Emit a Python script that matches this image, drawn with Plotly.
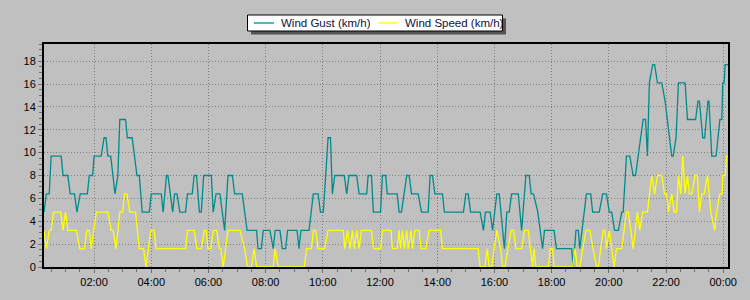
import plotly.graph_objects as go
from datetime import datetime, timedelta

# ---- data (time of day "HH:MM", 24:xx = next day) ----
gust_times = [
    "00:15", "00:20", "00:26", "00:30", "00:51", "00:55", "01:05", "01:10", "01:19", "01:24",
    "01:31", "01:46", "01:50", "01:57", "02:00", "02:15", "02:21", "02:25", "02:29", "02:35",
    "02:44", "02:50", "02:54", "03:06", "03:10", "03:20", "03:30", "03:35", "03:41", "03:56",
    "04:00", "04:21", "04:25", "04:32", "04:35", "04:45", "04:49", "04:54", "05:00", "05:12",
    "05:16", "05:26", "05:30", "05:35", "05:41", "05:45", "05:50", "06:06", "06:10", "06:16",
    "06:24", "06:34", "06:41", "06:50", "06:55", "07:11", "07:21", "07:41", "07:44", "07:51",
    "07:55", "08:09", "08:16", "08:20", "08:30", "08:35", "08:42", "08:46", "09:06", "09:10",
    "09:14", "09:31", "09:40", "09:50", "09:55", "10:01", "10:06", "10:11", "10:16", "10:20",
    "10:25", "10:45", "10:50", "10:55", "11:11", "11:16", "11:32", "11:35", "11:42", "11:46",
    "12:01", "12:05", "12:12", "12:15", "12:36", "12:40", "12:45", "12:56", "13:01", "13:06",
    "13:20", "13:27", "13:41", "13:45", "13:50", "13:55", "14:11", "14:15", "14:55", "15:00",
    "15:05", "15:10", "15:30", "15:37", "15:41", "15:51", "15:56", "16:05", "16:10", "16:21",
    "16:26", "16:31", "16:36", "16:50", "16:57", "17:06", "17:13", "17:17", "17:22", "17:31",
    "17:41", "17:45", "18:05", "18:10", "18:42", "18:45", "18:51", "18:56", "18:59", "19:13",
    "19:22", "19:26", "19:40", "19:47", "19:55", "20:01", "20:06", "20:12", "20:20", "20:27",
    "20:30", "20:37", "20:44", "20:51", "20:56", "21:12", "21:17", "21:21", "21:25", "21:32",
    "21:36", "21:42", "21:51", "21:58", "22:12", "22:15", "22:21", "22:26", "22:40", "22:45",
    "23:02", "23:07", "23:10", "23:17", "23:21", "23:28", "23:30", "23:36", "23:45", "23:53",
    "23:57", "23:59", "24:02", "24:04", "24:10",
]
gust_values = [
    4.8, 6.4, 6.4, 9.7, 9.7, 8.0, 8.0, 6.4, 6.4, 4.8,
    6.4, 6.4, 8.0, 8.0, 9.7, 9.7, 11.3, 11.3, 9.7, 9.7,
    6.4, 8.0, 12.9, 12.9, 11.3, 11.3, 8.0, 8.0, 4.8, 4.8,
    6.4, 6.4, 4.8, 8.0, 8.0, 4.8, 6.4, 6.4, 4.8, 4.8,
    6.4, 6.4, 8.0, 8.0, 4.8, 4.8, 8.0, 8.0, 4.8, 6.4,
    6.4, 3.2, 8.0, 8.0, 6.4, 6.4, 3.2, 3.2, 1.6, 1.6,
    3.2, 3.2, 1.6, 3.2, 3.2, 1.6, 1.6, 3.2, 3.2, 1.6,
    3.2, 3.2, 6.4, 6.4, 4.8, 4.8, 8.0, 11.3, 11.3, 6.4,
    8.0, 8.0, 6.4, 8.0, 8.0, 6.4, 6.4, 8.0, 8.0, 4.8,
    4.8, 8.0, 8.0, 6.4, 6.4, 4.8, 4.8, 8.0, 8.0, 6.4,
    6.4, 4.8, 4.8, 8.0, 8.0, 6.4, 6.4, 4.8, 4.8, 6.4,
    6.4, 4.8, 4.8, 3.2, 4.8, 4.8, 3.2, 6.4, 6.4, 1.6,
    4.8, 4.8, 6.4, 6.4, 3.2, 8.0, 8.0, 6.4, 6.4, 4.8,
    1.6, 3.2, 3.2, 1.6, 1.6, 0.0, 3.2, 3.2, 1.6, 6.4,
    6.4, 4.8, 4.8, 6.4, 6.4, 4.8, 4.8, 3.2, 3.2, 4.8,
    4.8, 9.7, 9.7, 8.0, 8.0, 12.9, 12.9, 9.7, 16.1, 17.7,
    17.7, 16.1, 16.1, 14.5, 9.7, 9.7, 11.3, 16.1, 16.1, 12.9,
    12.9, 14.5, 14.5, 11.3, 11.3, 14.5, 14.5, 9.7, 9.7, 12.9,
    12.9, 16.1, 16.1, 17.7, 17.7,
]

speed_times = [
    "00:15", "00:20", "00:26", "00:30", "00:35", "00:50", "00:55", "01:00", "01:05", "01:23",
    "01:30", "01:40", "01:45", "01:50", "01:54", "02:05", "02:29", "02:36", "02:40", "02:46",
    "02:54", "03:00", "03:04", "03:09", "03:15", "03:27", "03:35", "03:44", "03:49", "03:59",
    "04:06", "04:10", "05:12", "05:16", "05:30", "05:36", "05:45", "05:51", "05:55", "05:59",
    "06:05", "06:10", "06:17", "06:23", "06:26", "06:31", "06:41", "07:06", "07:16", "07:22",
    "07:30", "07:36", "07:41", "08:16", "08:20", "08:26", "09:21", "09:26", "09:36", "09:40",
    "09:45", "09:50", "10:04", "10:11", "10:43", "10:46", "10:52", "10:57", "11:02", "11:06",
    "11:11", "11:16", "11:21", "11:42", "11:46", "12:01", "12:05", "12:23", "12:26", "12:36",
    "12:40", "12:43", "12:47", "12:51", "12:56", "12:59", "13:05", "13:08", "13:13", "13:22",
    "13:26", "13:36", "13:43", "14:07", "14:11", "15:26", "15:30", "15:40", "15:45", "15:49",
    "15:54", "16:05", "16:13", "16:17", "16:22", "16:35", "16:40", "16:45", "16:57", "17:03",
    "17:11", "17:20", "17:23", "17:27", "17:53", "17:57", "18:02", "18:05", "18:44", "18:49",
    "18:54", "18:59", "19:12", "19:20", "19:34", "19:38", "19:48", "19:52", "19:55", "20:01",
    "20:11", "20:16", "20:27", "20:37", "20:41", "20:51", "21:00", "21:05", "21:11", "21:21",
    "21:30", "21:36", "21:42", "21:51", "21:57", "22:01", "22:05", "22:12", "22:17", "22:22",
    "22:26", "22:31", "22:35", "22:40", "22:45", "22:49", "22:54", "23:01", "23:06", "23:10",
    "23:15", "23:20", "23:27", "23:34", "23:42", "23:46", "23:53", "23:58", "23:59", "24:04",
    "24:07", "24:10",
]
speed_values = [
    3.2, 1.6, 3.2, 3.2, 4.8, 4.8, 3.2, 4.8, 3.2, 3.2,
    1.6, 1.6, 3.2, 3.2, 1.6, 4.8, 4.8, 3.2, 3.2, 1.6,
    4.8, 4.8, 6.4, 6.4, 4.8, 4.8, 1.6, 1.6, 0.0, 3.2,
    3.2, 1.6, 1.6, 3.2, 3.2, 1.6, 1.6, 3.2, 3.2, 1.6,
    1.6, 3.2, 3.2, 1.6, 1.6, 0.0, 3.2, 3.2, 1.6, 0.0,
    0.0, 1.6, 0.0, 0.0, 1.6, 0.0, 0.0, 1.6, 1.6, 3.2,
    3.2, 1.6, 1.6, 3.2, 3.2, 1.6, 3.2, 1.6, 3.2, 1.6,
    3.2, 1.6, 3.2, 3.2, 1.6, 1.6, 3.2, 3.2, 1.6, 1.6,
    3.2, 1.6, 3.2, 1.6, 3.2, 1.6, 3.2, 1.6, 3.2, 3.2,
    1.6, 1.6, 3.2, 3.2, 1.6, 1.6, 0.0, 0.0, 1.6, 0.0,
    0.0, 3.2, 1.6, 0.0, 0.0, 3.2, 3.2, 1.6, 1.6, 3.2,
    3.2, 0.0, 1.6, 0.0, 0.0, 1.6, 1.6, 0.0, 0.0, 1.6,
    0.0, 0.0, 3.2, 3.2, 0.0, 0.0, 3.2, 3.2, 1.6, 3.2,
    0.0, 1.6, 1.6, 4.8, 4.8, 1.6, 4.8, 3.2, 4.8, 4.8,
    8.0, 6.4, 8.0, 8.0, 6.4, 6.4, 4.8, 6.4, 4.8, 4.8,
    8.0, 6.4, 9.7, 6.4, 8.0, 6.4, 6.4, 8.0, 8.0, 4.8,
    6.4, 6.4, 8.0, 4.8, 3.2, 4.8, 6.4, 6.4, 8.0, 8.0,
    9.7, 9.7,
]

series_names = ["Wind Gust (km/h)", "Wind Speed (km/h)"]
series_colors = ["#008B8B", "#FFFF00"]

x_start, x_end = "00:15", "24:10"
y_max = 19.5
BASE = datetime(2024, 1, 1)


def to_dt(s):
    h, m = (int(p) for p in s.split(":"))
    return BASE + timedelta(hours=h, minutes=m)


fig = go.Figure()
fig.add_trace(go.Scatter(
    x=[to_dt(t) for t in gust_times], y=gust_values, mode="lines",
    name=series_names[0], line=dict(color=series_colors[0], width=1.3),
))
fig.add_trace(go.Scatter(
    x=[to_dt(t) for t in speed_times], y=speed_values, mode="lines",
    name=series_names[1], line=dict(color=series_colors[1], width=1.3),
))

W, H = 750, 300
L, R, T, B = 44, 22, 44, 33
pw, ph = W - L - R, H - T - B


def px_x(x):
    return (x - L) / pw


def px_y(y):
    return (H - B - y) / ph


# ---- legend box (drawn as shapes + text, top centre) ----
box_l, box_r, box_t, box_b = 247.5, 502.5, 15, 31
shadow = 3.5
fig.add_shape(type="rect", xref="paper", yref="paper",
              x0=px_x(box_l + shadow), x1=px_x(box_r + shadow),
              y0=px_y(box_b + shadow), y1=px_y(box_t + shadow),
              fillcolor="#555555", line=dict(width=0), layer="above")
fig.add_shape(type="rect", xref="paper", yref="paper",
              x0=px_x(box_l), x1=px_x(box_r), y0=px_y(box_b), y1=px_y(box_t),
              fillcolor="#FFFFFF", line=dict(color="#000000", width=1), layer="above")
item_line_x = [(254, 274), (378, 397)]
item_text_x = [279, 403]
ymid = (box_t + box_b) / 2
for name, color, (a, b), tx in zip(series_names, series_colors, item_line_x, item_text_x):
    fig.add_shape(type="line", xref="paper", yref="paper",
                  x0=px_x(a), x1=px_x(b), y0=px_y(ymid), y1=px_y(ymid),
                  line=dict(color=color, width=1.3), layer="above")
    fig.add_annotation(xref="paper", yref="paper", x=px_x(tx), y=px_y(ymid),
                       xanchor="left", yanchor="middle", showarrow=False, text=name,
                       font=dict(size=11.5, color="#10103a"))

grid_dash = "1px,2px"
fig.update_layout(
    width=W, height=H,
    margin=dict(l=L, r=R, t=T, b=B, pad=0),
    paper_bgcolor="#C0C0C0", plot_bgcolor="#C0C0C0",
    font=dict(family="Arial, Liberation Sans, sans-serif", size=11, color="#000000"),
    showlegend=False,
    xaxis=dict(
        type="date", range=[to_dt(x_start), to_dt(x_end)],
        tick0=BASE, dtick=2 * 3600 * 1000, tickformat="%H:%M",
        showgrid=True, gridcolor="#7f7f7f", griddash=grid_dash, gridwidth=1,
        showline=True, linecolor="#000000", linewidth=2, mirror=True,
        ticks="outside", ticklen=4, tickcolor="#707070",
        minor=dict(dtick=30 * 60 * 1000, ticks="outside", ticklen=3, tickcolor="#707070", showgrid=False),
        zeroline=False, fixedrange=True,
    ),
    yaxis=dict(
        range=[0, y_max], dtick=2, tick0=0,
        showgrid=True, gridcolor="#7f7f7f", griddash=grid_dash, gridwidth=1,
        showline=True, linecolor="#000000", linewidth=2, mirror=True,
        ticks="outside", ticklen=4, tickcolor="#707070",
        minor=dict(dtick=0.5, ticks="outside", ticklen=3, tickcolor="#707070", showgrid=False),
        zeroline=False, fixedrange=True,
    ),
)

fig.write_html("out.html")
